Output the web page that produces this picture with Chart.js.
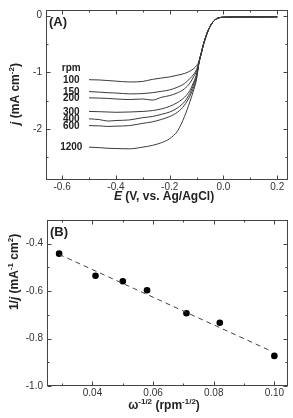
<!DOCTYPE html>
<html>
<head>
<meta charset="utf-8">
<script src="https://cdn.jsdelivr.net/npm/chart.js@4.4.0/dist/chart.umd.min.js"></script>
<style>
body { margin: 0; background: #fff; }
.panel { position: absolute; left: 0; width: 293px; }
#boxA { top: 0; height: 210px; }
#boxB { top: 210px; height: 208px; }
</style>
</head>
<body>
<div class="panel" id="boxA"><canvas id="chartA"></canvas></div>
<div class="panel" id="boxB"><canvas id="chartB"></canvas></div>
<script>
// ---- panel (A): polarisation curves, one per rotation rate
var rpmLabels = ['100', '150', '200', '300', '400', '600', '1200'];
var leftE = [-0.5, -0.46, -0.43, -0.4, -0.35, -0.3, -0.265, -0.23, -0.2, -0.17, -0.145, -0.125, -0.11, -0.1];
var j100  = [-1.13, -1.135, -1.145, -1.155, -1.17, -1.16, -1.125, -1.10, -1.08, -1.05, -1.02, -0.98, -0.93, -0.88];
var j150  = [-1.34, -1.35, -1.36, -1.365, -1.38, -1.375, -1.36, -1.335, -1.31, -1.26, -1.20, -1.11, -1.03, -0.95];
var j200  = [-1.45, -1.455, -1.46, -1.47, -1.48, -1.47, -1.49, -1.44, -1.41, -1.36, -1.29, -1.19, -1.07, -0.98];
var j300  = [-1.69, -1.695, -1.70, -1.705, -1.70, -1.69, -1.675, -1.645, -1.60, -1.53, -1.44, -1.32, -1.16, -1.03];
var j400  = [-1.82, -1.835, -1.86, -1.85, -1.84, -1.80, -1.78, -1.74, -1.70, -1.625, -1.52, -1.37, -1.20, -1.06];
var j600  = [-1.94, -1.945, -1.955, -1.95, -1.94, -1.90, -1.875, -1.83, -1.78, -1.70, -1.58, -1.42, -1.25, -1.08];
var j1200 = [-2.32, -2.33, -2.34, -2.345, -2.35, -2.32, -2.29, -2.24, -2.17, -2.03, -1.78, -1.52, -1.30, -1.12];
// common rising part + plateau shared by all curves
var tailE = [-0.09, -0.083, -0.074, -0.064, -0.055, -0.045, -0.035, -0.026, -0.015, 0, 0.1, 0.2];
var tailJ = [-0.80, -0.67, -0.50, -0.35, -0.24, -0.15, -0.09, -0.055, -0.035, -0.028, -0.022, -0.02];
var xTicksA = [-0.6, -0.4, -0.2, 0.0, 0.2];
var yTicksA = [-2, -1, 0];
var xMinorA = [-0.5, -0.3, -0.1, 0.1];
var yMinorA = [-2.5, -1.5, -0.5];

// ---- panel (B): Koutecky-Levich plot
var wInv = [0.029, 0.041, 0.050, 0.058, 0.071, 0.082, 0.100];
var invJ = [-0.442, -0.535, -0.558, -0.596, -0.693, -0.733, -0.873];
var fitX = [0.029, 0.099];
var fitY = [-0.445, -0.853];
var xTicksB = [0.04, 0.06, 0.08, 0.10];
var yTicksB = [-1.0, -0.8, -0.6, -0.4];
var xMinorB = [0.03, 0.05, 0.07, 0.09];
var yMinorB = [-0.9, -0.7, -0.5, -0.3];

var FONT = '"Liberation Sans", Arial, sans-serif';
var INK = '#222';

function richFont(p) {
    return (p.i ? 'italic ' : '') + 'bold ' + (p.sup ? 8 : 12) + 'px ' + FONT;
}

// draw a label made of pieces (italic / superscript), centred on cx,cy
function drawRich(ctx, parts, cx, cy, angle) {
    ctx.save();
    ctx.translate(cx, cy);
    ctx.rotate(angle || 0);
    var total = 0;
    parts.forEach(function(p) {
        ctx.font = richFont(p);
        p.w = ctx.measureText(p.t).width;
        total += p.w;
    });
    var x = -total / 2;
    ctx.textAlign = 'left';
    ctx.textBaseline = 'middle';
    ctx.fillStyle = INK;
    parts.forEach(function(p) {
        ctx.font = richFont(p);
        ctx.fillText(p.t, x, p.sup ? -4 : 0);
        x += p.w;
    });
    ctx.restore();
}

// frame on four sides, inward ticks, axis titles and panel tag
var framePlugin = {
    id: 'frame',
    afterDraw: function(chart, args, o) {
        var ctx = chart.ctx, a = chart.chartArea;
        var sx = chart.scales.x, sy = chart.scales.y;
        var L = Math.round(a.left) + 0.5, R = Math.round(a.right) - 0.5;
        var T = Math.round(a.top) + 0.5, B = Math.round(a.bottom) - 0.5;
        ctx.save();
        ctx.strokeStyle = '#444';
        ctx.lineWidth = 1;
        ctx.strokeRect(L, T, R - L, B - T);
        ctx.beginPath();
        function xt(v, len) {
            var p = Math.round(sx.getPixelForValue(v)) + 0.5;
            ctx.moveTo(p, B); ctx.lineTo(p, B - len);
            ctx.moveTo(p, T); ctx.lineTo(p, T + len);
        }
        function yt(v, len) {
            var p = Math.round(sy.getPixelForValue(v)) + 0.5;
            ctx.moveTo(L, p); ctx.lineTo(L + len, p);
            ctx.moveTo(R, p); ctx.lineTo(R - len, p);
        }
        o.xMajor.forEach(function(v) { xt(v, 4); });
        o.xMinor.forEach(function(v) { xt(v, 2); });
        o.yMajor.forEach(function(v) { yt(v, 4); });
        o.yMinor.forEach(function(v) { yt(v, 2); });
        ctx.stroke();
        ctx.restore();

        drawRich(ctx, o.xTitle, o.xTitlePos[0], o.xTitlePos[1], 0);
        drawRich(ctx, o.yTitle, o.yTitlePos[0], o.yTitlePos[1], -Math.PI / 2);

        ctx.save();
        ctx.font = 'bold 13px ' + FONT;
        ctx.fillStyle = INK;
        ctx.textBaseline = 'top';
        ctx.fillText(o.tag, a.left + 3, a.top + 6);
        ctx.restore();
    }
};

// rpm labels next to the start of each curve (panel A only)
var rpmPlugin = {
    id: 'rpmLabels',
    afterDraw: function(chart) {
        if (chart.canvas.id !== 'chartA') return;
        var ctx = chart.ctx, sx = chart.scales.x, sy = chart.scales.y;
        var starts = [j100[0], j150[0], j200[0], j300[0], j400[0], j600[0], j1200[0]];
        var x = sx.getPixelForValue(-0.566);
        ctx.save();
        ctx.font = 'bold 10px ' + FONT;
        ctx.fillStyle = INK;
        ctx.textAlign = 'center';
        ctx.textBaseline = 'middle';
        ctx.fillText('rpm', x, sy.getPixelForValue(-0.93));
        rpmLabels.forEach(function(lab, i) {
            ctx.fillText(lab, x, sy.getPixelForValue(starts[i]) + 0.5);
        });
        ctx.restore();
    }
};

Chart.register(framePlugin, rpmPlugin);

function toPoints(xs, ys) {
    return xs.map(function(x, i) { return { x: x, y: ys[i] }; });
}

function axis(min, max, ticks, fmt, pad, size, isX) {
    return {
        type: 'linear',
        min: min,
        max: max,
        grid: { display: false, drawTicks: false },
        border: { display: false },
        afterBuildTicks: function(s) {
            s.ticks = ticks.map(function(v) { return { value: v }; });
        },
        afterFit: function(s) {
            if (isX) s.height = size; else s.width = size;
        },
        ticks: {
            autoSkip: false,
            maxRotation: 0,
            padding: pad,
            color: '#333',
            font: { family: FONT, size: 10 },
            callback: fmt
        }
    };
}

var common = {
    responsive: true,
    maintainAspectRatio: false,
    animation: false,
    events: [],
    plugins: { legend: { display: false }, tooltip: { enabled: false } }
};

var curvesJ = [j100, j150, j200, j300, j400, j600, j1200];

new Chart(document.getElementById('chartA'), {
    type: 'scatter',
    data: {
        datasets: curvesJ.map(function(js) {
            return {
                data: toPoints(leftE, js).concat(toPoints(tailE, tailJ)),
                showLine: true,
                borderColor: '#3a3a3a',
                borderWidth: 1,
                pointRadius: 0,
                cubicInterpolationMode: 'monotone'
            };
        })
    },
    options: Object.assign({}, common, {
        layout: { padding: { top: 9, right: 5, left: 0, bottom: 0 } },
        scales: {
            x: axis(-0.66, 0.24, xTicksA, function(v) {
                return Math.abs(v) < 1e-9 ? '0.0' : v.toFixed(1);
            }, 1, 30, true),
            y: axis(-2.9, 0.1, yTicksA, function(v) { return String(v); }, 4, 46, false)
        },
        plugins: Object.assign({}, common.plugins, {
            frame: {
                xMajor: xTicksA, xMinor: xMinorA, yMajor: yTicksA, yMinor: yMinorA,
                tag: '(A)',
                xTitlePos: [164, 197],
                yTitlePos: [16, 94],
                xTitle: [{ t: 'E', i: true }, { t: ' (V, vs. Ag/AgCl)' }],
                yTitle: [{ t: 'j', i: true }, { t: ' (mA cm' }, { t: '-2', sup: true }, { t: ')' }]
            }
        })
    })
});

new Chart(document.getElementById('chartB'), {
    type: 'scatter',
    data: {
        datasets: [{
            data: toPoints(fitX, fitY),
            showLine: true,
            borderColor: '#444',
            borderWidth: 1,
            borderDash: [5, 4],
            pointRadius: 0
        }, {
            data: toPoints(wInv, invJ),
            pointRadius: 3.3,
            pointBackgroundColor: '#000',
            pointBorderColor: '#000',
            pointBorderWidth: 0
        }]
    },
    options: Object.assign({}, common, {
        layout: { padding: { top: 5, right: 5, left: 0, bottom: 0 } },
        scales: {
            x: axis(0.025, 0.1045, xTicksB, function(v) { return v.toFixed(2); }, 1, 32, true),
            y: axis(-1.0, -0.3, yTicksB, function(v) { return v.toFixed(1); }, 4, 47, false)
        },
        plugins: Object.assign({}, common.plugins, {
            frame: {
                xMajor: xTicksB, xMinor: xMinorB, yMajor: yTicksB, yMinor: yMinorB,
                tag: '(B)',
                xTitlePos: [164, 196],
                yTitlePos: [15, 62],
                xTitle: [{ t: '\u03c9' }, { t: '-1/2', sup: true }, { t: ' (rpm' }, { t: '-1/2', sup: true }, { t: ')' }],
                yTitle: [{ t: '1/' }, { t: 'j', i: true }, { t: ' (mA' }, { t: '-1', sup: true }, { t: ' cm' }, { t: '2', sup: true }, { t: ')' }]
            }
        })
    })
});
</script>
</body>
</html>
